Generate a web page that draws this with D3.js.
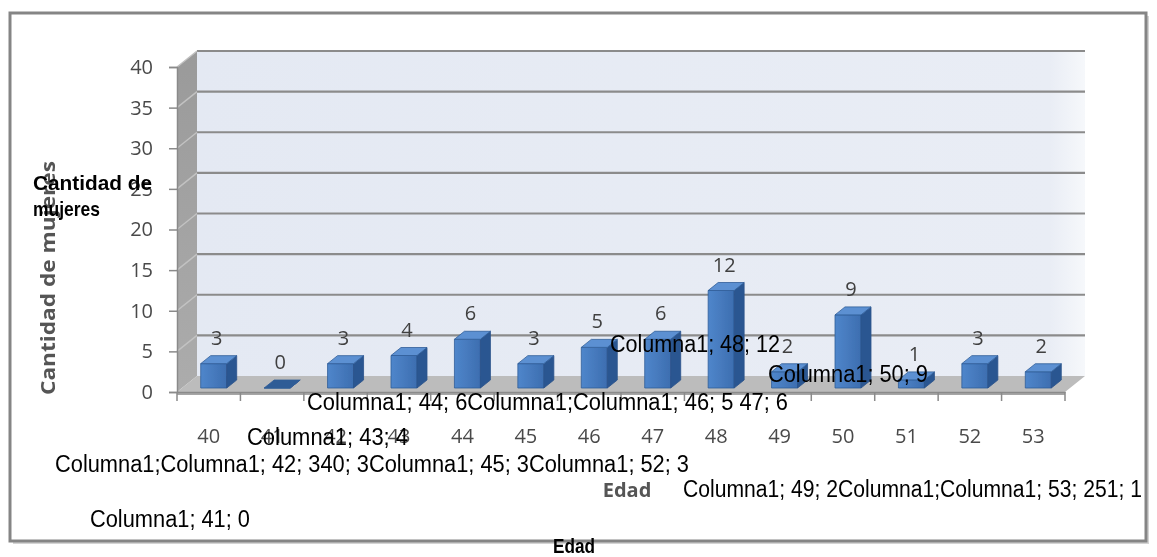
<!DOCTYPE html>
<html>
<head>
<meta charset="utf-8">
<script src="https://cdn.jsdelivr.net/npm/d3@7"></script>
<style>
  html, body { margin: 0; padding: 0; background: #fff; overflow: hidden; }
  svg { display: block; }
</style>
</head>
<body>
<svg id="chart" width="1157" height="557"></svg>
<script>
// ---- datos ----
const edades = [40, 41, 42, 43, 44, 45, 46, 47, 48, 49, 50, 51, 52, 53];
const cantidades = [3, 0, 3, 4, 6, 3, 5, 6, 12, 2, 9, 1, 3, 2];
const ticksY = [0, 5, 10, 15, 20, 25, 30, 35, 40];
const tituloY = "Cantidad de mujeres";
const tituloX = "Edad";

// etiquetas de texto sueltas que quedan superpuestas sobre el gráfico
const etiquetasSueltas = [
  "Cantidad de",
  "mujeres",
  "Columna1; 48; 12",
  "Columna1; 50; 9",
  "Columna1; 44; 6Columna1;Columna1; 46; 5 47; 6",
  "Columna1; 43; 4",
  "Columna1;Columna1; 42; 340; 3Columna1; 45; 3Columna1; 52; 3",
  "Columna1; 49; 2Columna1;Columna1; 53; 251; 1",
  "Columna1; 41; 0",
  "Edad"
];
// posición (x, línea base), ancho y peso de cada etiqueta suelta
const disposicionSueltas = [
  { x: 33,  y: 190, w: 119, bold: true },
  { x: 33,  y: 216, w: 67,  bold: true },
  { x: 610, y: 352, w: 170 },
  { x: 768, y: 382, w: 160 },
  { x: 307, y: 410, w: 481 },
  { x: 247, y: 445, w: 161 },
  { x: 55,  y: 472, w: 634 },
  { x: 683, y: 497, w: 459 },
  { x: 90,  y: 527, w: 160 },
  { x: 553, y: 553, w: 42,  bold: true }
];

// ---- geometría ----
const svg = d3.select("#chart");
const defs = svg.append("defs");
defs.append("filter").attr("id", "suave")
  .attr("x", "-5%").attr("y", "-5%").attr("width", "110%").attr("height", "110%")
  .append("feGaussianBlur").attr("stdDeviation", 0.7);

const gradPared = defs.append("linearGradient").attr("id", "pared")
  .attr("x1", 0).attr("y1", 0).attr("x2", 1).attr("y2", 0);
gradPared.append("stop").attr("offset", "0%").attr("stop-color", "#e4e9f3");
gradPared.append("stop").attr("offset", "96%").attr("stop-color", "#e9edf5");
gradPared.append("stop").attr("offset", "100%").attr("stop-color", "#f6f8fb");

const gradLado = defs.append("linearGradient").attr("id", "lado")
  .attr("x1", 0).attr("y1", 0).attr("x2", 0).attr("y2", 1);
gradLado.append("stop").attr("offset", "0%").attr("stop-color", "#9a9a9a");
gradLado.append("stop").attr("offset", "100%").attr("stop-color", "#acacac");

const gradFrente = defs.append("linearGradient").attr("id", "frente")
  .attr("x1", 0).attr("y1", 0).attr("x2", 1).attr("y2", 0);
gradFrente.append("stop").attr("offset", "0%").attr("stop-color", "#4f86cb");
gradFrente.append("stop").attr("offset", "100%").attr("stop-color", "#3d6eb0");

// marco exterior con sombra
svg.append("rect").attr("x", 13).attr("y", 16).attr("width", 1136).attr("height", 528)
  .attr("fill", "#d4d4d4");
svg.append("rect").attr("x", 10).attr("y", 13).attr("width", 1136).attr("height", 528)
  .attr("fill", "#fff").attr("stroke", "#858585").attr("stroke-width", 3);

const g = svg.append("g").attr("filter", "url(#suave)");

const x = d3.scaleBand().domain(edades).range([177, 1065]);
const y = d3.scaleLinear().domain([0, 40]).range([392, 67]);
const DX = 20, DY = -16;             // desplazamiento de profundidad
const P = (px, v, z) => [px + DX * z, y(v) + DY * z];
const poly = pts => "M" + pts.map(p => p.join(",")).join("L") + "Z";
const x0 = x.range()[0], x1 = x.range()[1];

// pared lateral
g.append("path")
  .attr("d", poly([P(x0, 0, 0), P(x0, 40, 0), P(x0, 40, 1), P(x0, 0, 1)]))
  .attr("fill", "url(#lado)");
// pared del fondo
g.append("path")
  .attr("d", poly([P(x0, 0, 1), P(x0, 40, 1), P(x1, 40, 1), P(x1, 0, 1)]))
  .attr("fill", "url(#pared)");

// líneas de división
const rejilla = g.append("g").attr("stroke", "#8b8b8b").attr("stroke-width", 2.2).attr("fill", "none");
ticksY.filter(v => v > 0).forEach(v => {
  rejilla.append("path").attr("d", "M" + P(x0, v, 1).join(",") + "L" + P(x1, v, 1).join(","));
  rejilla.append("path").attr("d", "M" + P(x0, v, 0).join(",") + "L" + P(x0, v, 1).join(","))
    .attr("stroke", "#c2c2c2").attr("stroke-width", 1.5);
});

// suelo
g.append("path")
  .attr("d", poly([P(x0, 0, 0), P(x1, 0, 0), P(x1, 0, 1), P(x0, 0, 1)]))
  .attr("fill", "#bcbcbc");
g.append("path")
  .attr("d", poly([P(x0, 0, 0), P(x1, 0, 0), [P(x1, 0, 0)[0], P(x1, 0, 0)[1] + 3], [P(x0, 0, 0)[0], P(x0, 0, 0)[1] + 3]]))
  .attr("fill", "#a6a6a6");

const fuenteGris = sel => sel
  .attr("fill", "#4a4a4a")
  .style("font-family", "'Open Sans', sans-serif")
  .style("font-size", "20px");

// eje Y
const ejeY = g.append("g").attr("transform", `translate(${x0},0)`)
  .call(d3.axisLeft(y).tickValues(ticksY).tickSize(8).tickPadding(16));
ejeY.select(".domain").attr("stroke", "#8a8a8a").attr("stroke-width", 1.5);
ejeY.selectAll(".tick line").attr("stroke", "#8a8a8a").attr("stroke-width", 1.5);
ejeY.selectAll(".tick text").call(fuenteGris);

// eje X
const ejeX = g.append("g").attr("transform", `translate(0,${y(0)})`)
  .call(d3.axisBottom(x).tickSize(0).tickPadding(37));
ejeX.select(".domain").attr("stroke", "#8a8a8a").attr("stroke-width", 1.5);
ejeX.selectAll(".tick text").call(fuenteGris);
// marcas entre categorías
const bordes = edades.map(e => x(e)).concat([x1]);
g.append("g").selectAll("line").data(bordes).join("line")
  .attr("x1", d => d).attr("x2", d => d)
  .attr("y1", y(0)).attr("y2", y(0) + 9)
  .attr("stroke", "#8a8a8a").attr("stroke-width", 1.5);

// barras 3D
const bw = 26, zf = 0.25, zb = 0.75;
const datos = edades.map((e, i) => ({ edad: e, valor: cantidades[i] }));
const barras = g.append("g").selectAll("g").data(datos).join("g");
barras.each(function (d) {
  const sel = d3.select(this);
  const bx = x(d.edad) + (x.bandwidth() - bw) / 2;
  const v = d.valor;
  sel.append("path")
    .attr("d", poly([P(bx, 0, zf), P(bx, v, zf), P(bx + bw, v, zf), P(bx + bw, 0, zf)]))
    .attr("fill", "url(#frente)").attr("stroke", "#2f5d98").attr("stroke-width", 0.8);
  sel.append("path")
    .attr("d", poly([P(bx + bw, 0, zf), P(bx + bw, v, zf), P(bx + bw, v, zb), P(bx + bw, 0, zb)]))
    .attr("fill", "#2c5791").attr("stroke", "#2a528a").attr("stroke-width", 0.8);
  sel.append("path")
    .attr("d", poly([P(bx, v, zf), P(bx + bw, v, zf), P(bx + bw, v, zb), P(bx, v, zb)]))
    .attr("fill", v > 0 ? "#5b90d2" : "#2e5b96").attr("stroke", "#2f5d98").attr("stroke-width", 0.8);
});

// valores sobre las barras
g.append("g").selectAll("text").data(datos).join("text")
  .attr("x", d => x(d.edad) + x.bandwidth() / 2 + 8)
  .attr("y", d => y(d.valor) - 23)
  .attr("text-anchor", "middle")
  .call(fuenteGris)
  .attr("fill", "#3f3f3f")
  .text(d => d.valor);

// títulos de los ejes
g.append("text")
  .attr("transform", "translate(55,278) rotate(-90)")
  .attr("text-anchor", "middle")
  .attr("fill", "#555")
  .attr("textLength", 234).attr("lengthAdjust", "spacingAndGlyphs")
  .style("font-family", "'Open Sans', sans-serif").style("font-size", "20px").style("font-weight", "bold")
  .text(tituloY);
g.append("text")
  .attr("x", 627).attr("y", 497)
  .attr("text-anchor", "middle")
  .attr("fill", "#555")
  .style("font-family", "'Open Sans', sans-serif").style("font-size", "20px").style("font-weight", "bold")
  .text(tituloX);

// etiquetas sueltas en negro
svg.append("g").selectAll("text").data(etiquetasSueltas).join("text")
  .attr("x", (d, i) => disposicionSueltas[i].x)
  .attr("y", (d, i) => disposicionSueltas[i].y)
  .attr("textLength", (d, i) => disposicionSueltas[i].w)
  .attr("lengthAdjust", "spacingAndGlyphs")
  .attr("fill", "#000")
  .style("font-family", "'Liberation Sans Narrow', 'Arial Narrow', 'Liberation Sans', sans-serif")
  .style("font-size", (d, i) => disposicionSueltas[i].bold ? "21px" : "23px")
  .style("font-weight", (d, i) => disposicionSueltas[i].bold ? "bold" : "normal")
  .text(d => d);
</script>
</body>
</html>
